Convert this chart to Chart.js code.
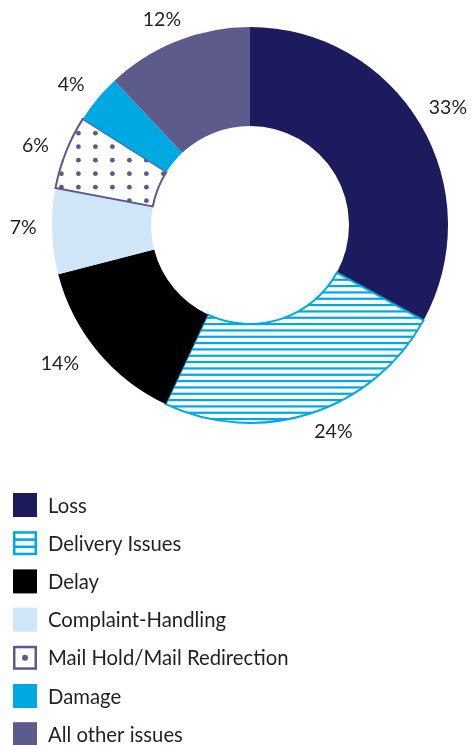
<!DOCTYPE html>
<html>
<head>
<meta charset="utf-8">
<script src="https://cdn.jsdelivr.net/npm/chart.js@4.4.1/dist/chart.umd.min.js"></script>
<style>
  html, body { margin: 0; padding: 0; background: #fff; }
  canvas { display: block; }
</style>
</head>
<body>
<canvas id="complaintsChart" width="473" height="745"></canvas>
<script>
// Complaint categories, clockwise from 12 o'clock
const categories = ['Loss', 'Delivery Issues', 'Delay', 'Complaint-Handling', 'Mail Hold/Mail Redirection', 'Damage', 'All other issues'];
const shares = [33, 24, 14, 7, 6, 4, 12];

const navy = '#1b1b5e';
const brightBlue = '#00a8e1';
const paleBlue = '#cfe6f8';
const purple = '#5b5a8e';
const slate = '#5c5b8c';
const textColor = '#231f20';
const fontFamily = 'Lato, "Noto Sans", sans-serif';

// horizontal stripes for Delivery Issues
function stripePattern(color) {
  const c = document.createElement('canvas');
  c.width = 8;
  c.height = 19;
  const g = c.getContext('2d');
  g.fillStyle = '#fff';
  g.fillRect(0, 0, c.width, c.height);
  g.fillStyle = color;
  for (let i = 0; i < 3; i++) {
    g.fillRect(0, i * 19 / 3, c.width, 2.2);
  }
  return g.createPattern(c, 'repeat');
}

// dot grid for Mail Hold/Mail Redirection
function dotPattern(color) {
  const c = document.createElement('canvas');
  c.width = 17;
  c.height = 27;
  const g = c.getContext('2d');
  g.fillStyle = '#fff';
  g.fillRect(0, 0, c.width, c.height);
  g.fillStyle = color;
  [6.7, 20.2].forEach(function (y) {
    g.beginPath();
    g.arc(10.4, y, 2.4, 0, Math.PI * 2);
    g.fill();
  });
  const p = g.createPattern(c, 'repeat');
  p.setTransform(new DOMMatrix().translate(0, 5));
  return p;
}

const fills = [navy, stripePattern(brightBlue), '#000', paleBlue, dotPattern(purple), brightBlue, slate];
const edges = [navy, brightBlue, '#000', paleBlue, purple, brightBlue, slate];
const edgeWidths = [0, 2, 0, 0, 2, 0, 0];

// percentage labels just outside the ring
const outsideLabels = {
  id: 'outsideLabels',
  afterDatasetsDraw(chart, args, opts) {
    const ctx = chart.ctx;
    const meta = chart.getDatasetMeta(0);
    const nudge = opts.nudge || [];
    ctx.save();
    ctx.font = '19.5px ' + fontFamily;
    ctx.fillStyle = textColor;
    ctx.textAlign = 'center';
    ctx.textBaseline = 'middle';
    meta.data.forEach(function (arc, i) {
      const p = arc.getProps(['x', 'y', 'startAngle', 'endAngle', 'outerRadius'], true);
      const mid = (p.startAngle + p.endAngle) / 2;
      const text = shares[i] + '%';
      const w = ctx.measureText(text).width;
      const h = 15;
      const r = p.outerRadius + 14;
      const d = nudge[i] || [0, 0];
      const cx = p.x + Math.cos(mid) * (r + w / 2) + d[0];
      const cy = p.y + Math.sin(mid) * (r + h / 2) + d[1];
      ctx.fillText(text, cx, cy);
    });
    ctx.restore();
  }
};

// one-per-row legend underneath the chart
const stackedLegend = {
  id: 'stackedLegend',
  afterDraw(chart) {
    const ctx = chart.ctx;
    const left = 13;
    const top = 493;
    const step = 38.2;
    const box = 24;
    ctx.save();
    ctx.font = '20.3px ' + fontFamily;
    ctx.textBaseline = 'middle';
    categories.forEach(function (name, i) {
      const y = top + i * step;
      if (i === 1) {
        ctx.fillStyle = brightBlue;
        ctx.fillRect(left, y, box, box);
        ctx.fillStyle = '#fff';
        ctx.fillRect(left + 2.5, y + 2.5, box - 5, 4.6);
        ctx.fillRect(left + 2.5, y + 9.7, box - 5, 4.6);
        ctx.fillRect(left + 2.5, y + 16.9, box - 5, 4.6);
      } else if (i === 4) {
        ctx.strokeStyle = purple;
        ctx.lineWidth = 2.5;
        ctx.strokeRect(left + 1.25, y + 1.25, box - 2.5, box - 2.5);
        ctx.fillStyle = purple;
        ctx.beginPath();
        ctx.arc(left + box / 2, y + box / 2, 3, 0, Math.PI * 2);
        ctx.fill();
      } else {
        ctx.fillStyle = edges[i];
        ctx.fillRect(left, y, box, box);
      }
      ctx.fillStyle = textColor;
      ctx.fillText(name, 48, y + box / 2 + 1);
    });
    ctx.restore();
  }
};

new Chart(document.getElementById('complaintsChart'), {
  type: 'doughnut',
  data: {
    labels: categories,
    datasets: [{
      data: shares,
      backgroundColor: fills,
      borderColor: edges,
      borderWidth: edgeWidths,
      borderJoinStyle: 'miter'
    }]
  },
  options: {
    responsive: false,
    animation: false,
    events: [],
    radius: 198,
    cutout: '50%',
    layout: {
      padding: { left: 52, right: 25, top: 27, bottom: 322 }
    },
    plugins: {
      legend: { display: false },
      tooltip: { enabled: false },
      outsideLabels: {
        // small hand adjustments so labels clear the ring edge
        nudge: [[-1, -6], [12, -2], [-12, -1], [-1.5, -4], [-5, 2], [-5, 0], [-3, -1]]
      }
    }
  },
  plugins: [outsideLabels, stackedLegend]
});
</script>
</body>
</html>
